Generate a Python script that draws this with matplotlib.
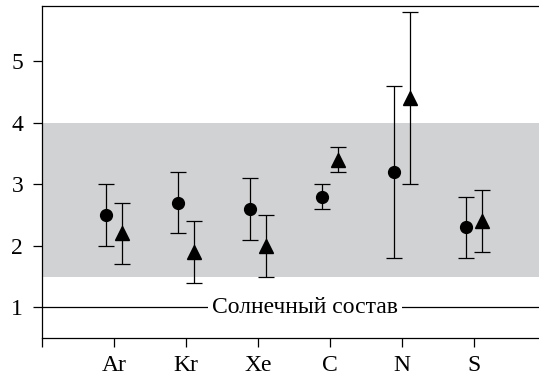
import matplotlib
matplotlib.use("Agg")
import matplotlib.pyplot as plt
import numpy as np

categories = ["Ar", "Kr", "Xe", "C", "N", "S"]
circle_vals = [2.5, 2.7, 2.6, 2.8, 3.2, 2.3]
circle_lo = [2.0, 2.2, 2.1, 2.6, 1.8, 1.8]
circle_hi = [3.0, 3.2, 3.1, 3.0, 4.6, 2.8]
tri_vals = [2.2, 1.9, 2.0, 3.4, 4.4, 2.4]
tri_lo = [1.7, 1.4, 1.5, 3.2, 3.0, 1.9]
tri_hi = [2.7, 2.4, 2.5, 3.6, 5.8, 2.9]
band = (1.5, 4.0)
solar = 1.0
solar_label = "Солнечный состав"

plt.rcParams['font.family'] = ['Liberation Serif', 'DejaVu Serif']

fig = plt.figure(figsize=(5.39, 3.80), dpi=100)
ax = fig.add_axes([42/539, 1-338/380, (539-42)/539, (338-6)/380])

x = np.arange(1, len(categories)+1)
off = 0.105
ax.axhspan(band[0], band[1], color="#d1d2d4", lw=0, zorder=0)
ax.axhline(solar, color="black", lw=0.9, zorder=1)
ax.text(3.65, solar, solar_label, ha="center", va="center", fontsize=17,
        bbox=dict(facecolor="white", edgecolor="none", pad=3), zorder=2)

c = np.array(circle_vals); t = np.array(tri_vals)
ax.errorbar(x-off, c, yerr=[c-np.array(circle_lo), np.array(circle_hi)-c], fmt="o",
            color="black", ms=8.5, capsize=5.5, elinewidth=0.9, capthick=0.9, zorder=3)
ax.errorbar(x+off, t, yerr=[t-np.array(tri_lo), np.array(tri_hi)-t], fmt="^",
            color="black", ms=9.5, capsize=5.5, elinewidth=0.9, capthick=0.9, zorder=3)

ax.set_xlim(0, (539-42)/72)
ax.set_ylim(0.5, 5.9)
ax.set_xticks(np.arange(0, len(categories)+1))
ax.set_xticklabels([""] + categories)
ax.set_yticks([1, 2, 3, 4, 5])
ax.tick_params(direction="out", length=6.5, width=0.9, labelsize=17)
ax.tick_params(axis="y", pad=7)
ax.tick_params(axis="x", pad=6)
for s in ax.spines.values():
    s.set_linewidth(0.9)
ax.spines["right"].set_visible(False)

fig.savefig("out.png", dpi=100)
